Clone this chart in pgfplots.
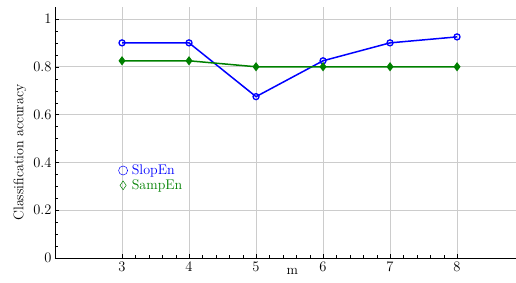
\documentclass[border=0pt]{standalone}
\usepackage{fontspec}
\usepackage{pgfplots}
\pgfplotsset{compat=1.18}
\definecolor{sgreen}{RGB}{0,128,0}
\begin{document}
\begin{tikzpicture}
\begin{axis}[
  name=ax,
  scale only axis,
  width=461pt, height=251pt,
  xmin=2, xmax=8.88, ymin=0, ymax=1.05,
  axis lines*=left,
  axis line style={-, thick, black},
  xtick={3,4,5,6,7,8},
  ytick={0,0.2,0.4,0.6,0.8,1},
  xticklabels={3,4,5,6,7,8},
  yticklabels={0,0.2,0.4,0.6,0.8,1},
  /pgf/number format/assume math mode=true,
  minor x tick num=4,
  minor y tick num=3,
  tick align=inside,
  tick style={black},
  grid=major,
  major grid style={gray!40, line width=0.6pt},
  tick label style={font=\fontsize{14.5}{16}\selectfont},
  xlabel={m},
  label style={font=\fontsize{14}{16}\selectfont},
  xlabel style={at={(axis description cs:0.515,0)}, anchor=north, yshift=-7pt},
  ylabel={Classification accuracy},
  ylabel style={at={(axis description cs:-0.076,0.42)}, anchor=center},
  legend style={draw=none, fill=none, at={(axis description cs:0.137,0.38)}, anchor=north west, row sep=-0.5pt, font=\fontsize{14}{15}\selectfont,
    /tikz/every odd column/.append style={column sep=2pt}, inner sep=0pt},
  legend cell align=left,
]
\addplot[blue, line width=1.5pt, mark=o, mark size=3pt, mark options={line width=1.3pt},
  legend image code/.code={\draw[blue, line width=0.5pt] (0cm,0cm) circle (4.5pt);}]
  coordinates {(3,0.9) (4,0.9) (5,0.675) (6,0.825) (7,0.9) (8,0.925)};
\addlegendentry{\textcolor{blue}{SlopEn}}
\addplot[sgreen, line width=1.5pt, mark=diamond*, mark size=3.4pt,
  legend image code/.code={\draw[sgreen, line width=0.5pt] (0cm,-4.4pt) -- (3.1pt,0) -- (0cm,4.4pt) -- (-3.1pt,0) -- cycle;}]
  coordinates {(3,0.825) (4,0.825) (5,0.8) (6,0.8) (7,0.8) (8,0.8)};
\addlegendentry{\textcolor{sgreen}{SampEn}}
\end{axis}
\pgfresetboundingbox
\path (ax.south west) ++(-55pt,-24pt) rectangle ++(516pt,282pt);
\end{tikzpicture}
\end{document}
